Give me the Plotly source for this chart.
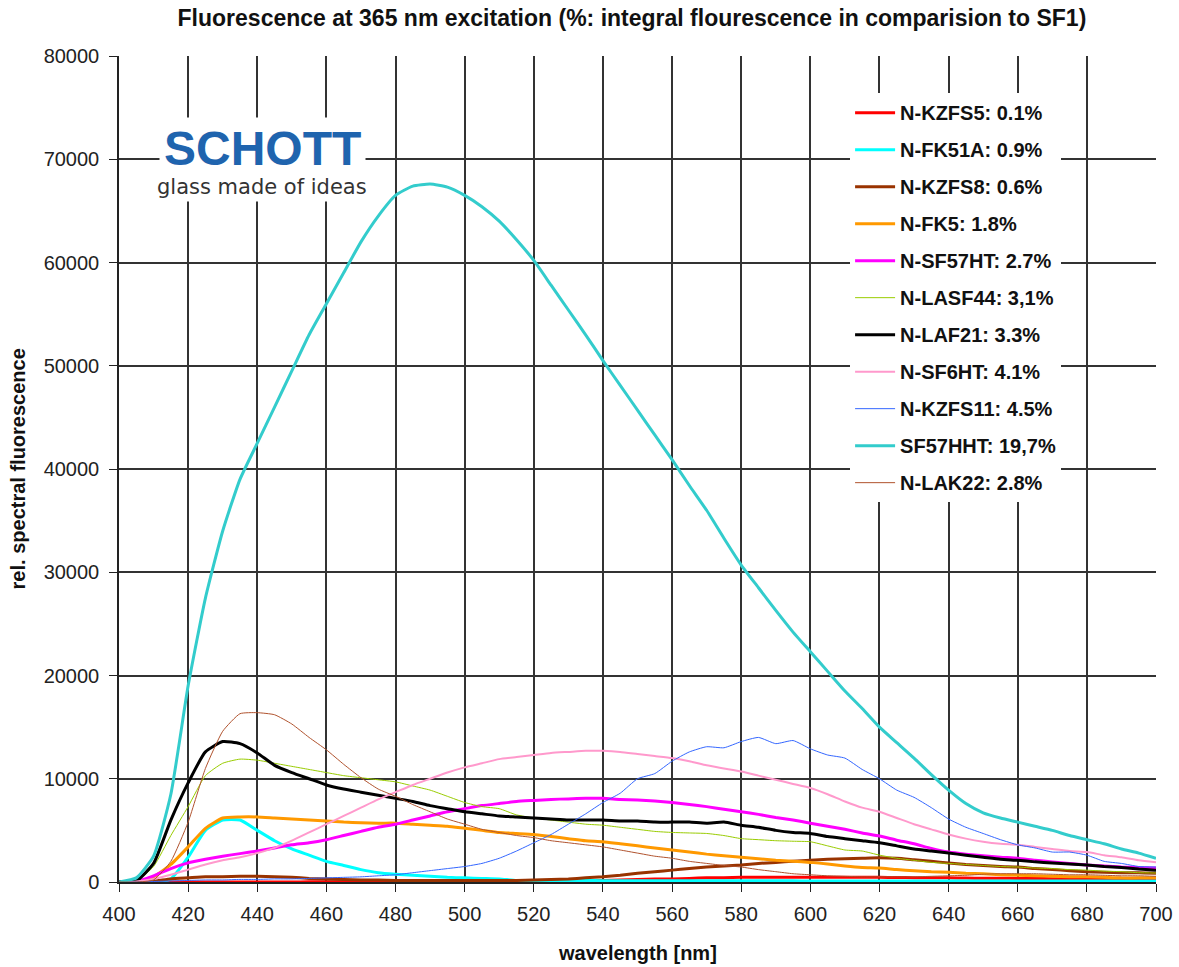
import plotly.graph_objects as go

# wavelength grid [nm]
wl = list(range(400, 701, 5))

# values (rel. spectral fluorescence)
n_kzfs5 = [0, 0, 0, 0, 0, 0, 0, 0, 0, 0, 0, 20, 30, 30, 40, 40, 40, 50, 50, 50,
           50, 60, 70, 80, 100, 110, 120, 130, 150, 200, 250, 280, 300, 350, 400, 420, 450, 450, 450, 450,
           450, 450, 450, 450, 450, 440, 420, 410, 400, 380, 370, 360, 350, 340, 320, 310, 300, 290, 270, 260, 250]
n_fk51a = [0, 0, 0, 300, 2400, 5000, 6000, 6000, 5000, 4000, 3200, 2600, 2000, 1600, 1200, 900, 750, 650, 550, 450,
           400, 350, 300, 150, 150, 150, 140, 140, 130, 130, 130, 120, 120, 120, 120, 110, 110, 110, 110, 110,
           100, 100, 100, 100, 100, 100, 100, 100, 100, 100, 100, 100, 100, 100, 100, 100, 100, 100, 100, 100, 100]
n_kzfs8 = [0, 0, 100, 300, 400, 500, 500, 550, 550, 500, 450, 350, 300, 250, 200, 200, 150, 150, 150, 150,
           150, 150, 150, 150, 200, 250, 300, 400, 500, 650, 850, 1000, 1150, 1300, 1450, 1550, 1650, 1800, 1900, 2000,
           2100, 2200, 2250, 2300, 2350, 2300, 2150, 2000, 1850, 1700, 1600, 1500, 1450, 1300, 1200, 1100, 1000, 950, 900, 900, 850]
n_fk5 = [0, 0, 500, 1700, 3400, 5200, 6200, 6300, 6300, 6200, 6100, 6000, 5900, 5800, 5750, 5700, 5700, 5600, 5500, 5400,
         5200, 5000, 4800, 4700, 4600, 4400, 4200, 4000, 3900, 3700, 3500, 3300, 3100, 2900, 2700, 2550, 2400, 2250, 2100, 2000,
         1900, 1750, 1550, 1400, 1350, 1200, 1100, 1000, 950, 850, 800, 700, 650, 600, 550, 500, 500, 450, 400, 400, 400]
n_sf57ht = [0, 50, 600, 1300, 1850, 2200, 2500, 2750, 3000, 3300, 3600, 3800, 4100, 4500, 4900, 5300, 5600, 6000, 6400, 6800,
            7100, 7400, 7600, 7800, 7900, 8000, 8050, 8100, 8100, 8000, 7950, 7850, 7700, 7500, 7300, 7050, 6800, 6550, 6250, 6000,
            5700, 5400, 5100, 4750, 4450, 4050, 3700, 3250, 2900, 2700, 2550, 2400, 2300, 2100, 1950, 1800, 1650, 1550, 1450, 1400, 1350]
n_lasf44 = [0, 100, 1500, 4500, 7300, 10300, 11500, 11900, 11800, 11500, 11200, 10900, 10600, 10300, 10100, 9900, 9700, 9300, 8900, 8300,
            7700, 7300, 7100, 6500, 6200, 6000, 5800, 5600, 5500, 5300, 5100, 4900, 4800, 4750, 4700, 4500, 4200, 4100, 4000, 3950,
            3900, 3500, 3100, 3000, 2600, 2300, 2100, 1900, 1800, 1700, 1600, 1500, 1450, 1350, 1300, 1200, 1150, 1050, 1000, 900, 870]
n_laf21 = [0, 100, 1800, 6000, 9600, 12600, 13600, 13400, 12500, 11300, 10600, 10000, 9400, 9000, 8700, 8400, 8100, 7800, 7400, 7100,
           6800, 6600, 6400, 6300, 6200, 6100, 6000, 6000, 6000, 5900, 5900, 5800, 5800, 5800, 5700, 5800, 5500, 5300, 5000, 4800,
           4700, 4400, 4200, 4000, 3800, 3500, 3200, 3000, 2800, 2600, 2400, 2200, 2100, 1950, 1850, 1750, 1650, 1500, 1400, 1250, 1150]
n_sf6ht = [0, 50, 300, 700, 1200, 1700, 2100, 2400, 2800, 3300, 4000, 4800, 5600, 6400, 7200, 8000, 8700, 9400, 10000, 10600,
           11100, 11500, 11900, 12100, 12300, 12500, 12600, 12700, 12700, 12600, 12400, 12200, 12000, 11700, 11300, 11000, 10700, 10300, 9900, 9500,
           9100, 8500, 7800, 7200, 6800, 6200, 5600, 5100, 4600, 4200, 3900, 3700, 3600, 3400, 3200, 3000, 2900, 2600, 2400, 2100, 1900]
n_kzfs11 = [0, 0, 50, 100, 150, 200, 200, 250, 250, 300, 300, 350, 400, 450, 500, 600, 700, 900, 1100, 1300,
            1500, 1800, 2300, 3000, 3800, 4600, 5600, 6600, 7700, 8600, 10000, 10500, 11700, 12600, 13100, 13000, 13600, 14000, 13400, 13700,
            12900, 12300, 12000, 10900, 10000, 8900, 8200, 7200, 6100, 5300, 4700, 4100, 3600, 3300, 2900, 2900, 2600, 2000, 1800, 1500, 1450]
sf57hht = [0, 400, 2500, 8500, 19000, 27500, 34000, 39000, 42500, 46000, 49500, 53000, 56000, 59000, 62000, 64500, 66500, 67400, 67600, 67300,
           66500, 65400, 64000, 62200, 60200, 57800, 55400, 53000, 50500, 48100, 45700, 43300, 40900, 38400, 36000, 33300, 30700, 28500, 26300, 24200,
           22300, 20400, 18500, 16800, 15000, 13500, 12000, 10400, 8900, 7600, 6700, 6200, 5800, 5400, 5000, 4500, 4100, 3700, 3200, 2800, 2300]
n_lak22 = [0, 0, 200, 2000, 5800, 11000, 14600, 16300, 16400, 16200, 15300, 14000, 12800, 11400, 10100, 9000, 8300, 7500, 6800, 6100,
           5600, 5100, 4800, 4500, 4300, 4000, 3800, 3600, 3400, 3100, 2800, 2500, 2300, 2000, 1800, 1600, 1450, 1200, 1000, 800,
           700, 600, 550, 500, 500, 500, 500, 550, 600, 650, 750, 800, 800, 800, 750, 700, 700, 650, 600, 600, 550]

names = ["N-KZFS5: 0.1%", "N-FK51A: 0.9%", "N-KZFS8: 0.6%", "N-FK5: 1.8%", "N-SF57HT: 2.7%",
         "N-LASF44: 3,1%", "N-LAF21: 3.3%", "N-SF6HT: 4.1%", "N-KZFS11: 4.5%", "SF57HHT: 19,7%",
         "N-LAK22: 2.8%"]
series = [n_kzfs5, n_fk51a, n_kzfs8, n_fk5, n_sf57ht, n_lasf44, n_laf21, n_sf6ht, n_kzfs11, sf57hht, n_lak22]
colors = ["#FF0000", "#00FFFF", "#993300", "#FF9900", "#FF00FF", "#99CC00", "#000000",
          "#FF99CC", "#3366FF", "#33CCCC", "#B0522D"]
widths = [3, 3, 3, 3, 3, 1, 3, 2, 1, 3, 1]

fig = go.Figure()
for i in range(len(names)):
    fig.add_trace(go.Scatter(
        x=wl, y=series[i], mode="lines", name=names[i], legendgroup=str(i),
        line=dict(color=colors[i], width=widths[i], shape="spline", smoothing=0.5)))

axis_font = dict(family="Arial", size=20, color="#222")
bold_font = dict(family="Arial", size=20, color="#111", weight="bold")
fig.update_layout(
    width=1179, height=967, autosize=False,
    margin=dict(l=119, r=23, t=56, b=85),
    paper_bgcolor="white", plot_bgcolor="white",
    title=dict(text="Fluorescence at 365 nm excitation (%: integral flourescence in comparision to SF1)",
               x=0.536, xanchor="center", y=0.981, yanchor="middle",
               font=dict(family="Arial", size=23, color="#111", weight="bold")),
    font=dict(family="Arial"),
    legend=dict(x=0.705, y=0.955, xanchor="left", yanchor="top", bgcolor="white", borderwidth=0,
                font=dict(family="Arial", size=20, color="#111", weight="bold"),
                tracegroupgap=8, itemwidth=40),
    xaxis=dict(range=[400, 700], dtick=20, tick0=400, showgrid=True, gridcolor="#333", gridwidth=1.5,
               showline=True, linecolor="#222", linewidth=1.5, ticks="outside", ticklen=8, tickcolor="#222",
               tickfont=axis_font, zeroline=False, automargin=False, ticklabelstandoff=5,
               ticklabeloverflow="allow"),
    yaxis=dict(range=[0, 80000], dtick=10000, tickformat="d", showgrid=True, gridcolor="#333", gridwidth=1.5,
               showline=True, linecolor="#222", linewidth=1.5, ticks="outside", ticklen=8, tickcolor="#222",
               tickfont=axis_font, zeroline=False, automargin=False, ticklabelstandoff=6,
               ticklabeloverflow="allow"),
)

# axis titles
fig.add_annotation(text="wavelength [nm]", xref="paper", yref="paper", x=0.5, y=-0.086,
                   xanchor="center", yanchor="middle", showarrow=False, font=bold_font)
fig.add_annotation(text="rel. spectral fluorescence", xref="paper", yref="paper", x=-0.097, y=0.5,
                   xanchor="center", yanchor="middle", showarrow=False, textangle=-90, font=bold_font)

# SCHOTT logo
fig.add_annotation(text="SCHOTT", xref="paper", yref="paper", x=0.138, y=0.888,
                   xanchor="center", yanchor="middle", showarrow=False, bgcolor="white", borderpad=4,
                   font=dict(family="Arial", size=48, color="#1F64AE", weight="bold"))
fig.add_annotation(text="glass made of ideas", xref="paper", yref="paper", x=0.138, y=0.842,
                   xanchor="center", yanchor="middle", showarrow=False, bgcolor="white", borderpad=2,
                   font=dict(family="DejaVu Sans", size=21, color="#333"))

# drop the browser's default 8px body margin so the figure fills the window
fig.write_html("out.html", config={"displayModeBar": False},
               post_script="document.body.style.margin='0';")
